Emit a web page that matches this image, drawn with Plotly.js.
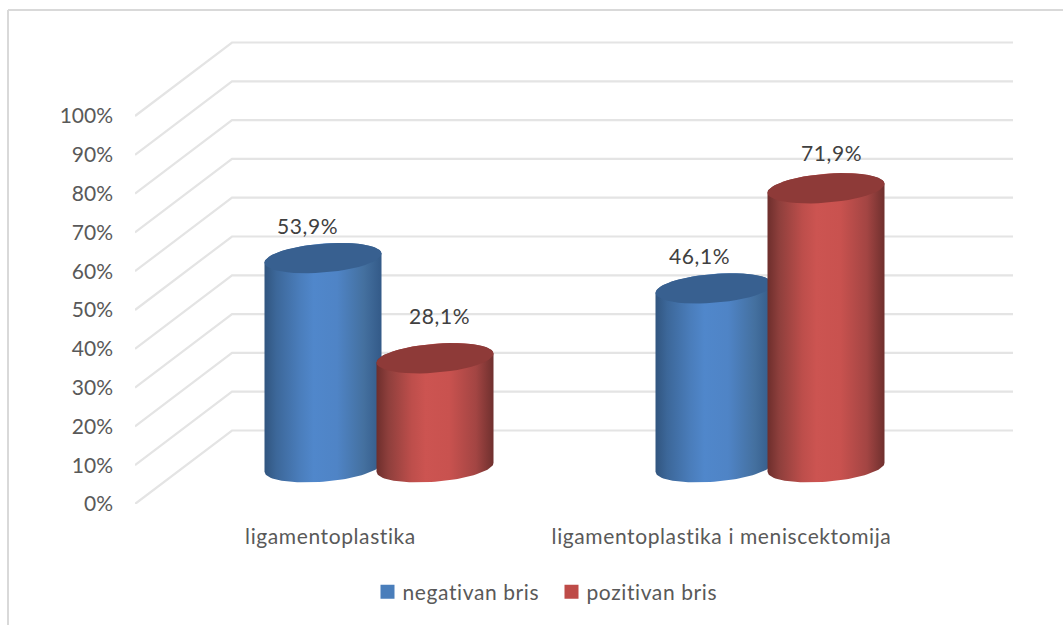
<!DOCTYPE html>
<html>
<head>
<meta charset="utf-8">
<script src="https://cdn.plot.ly/plotly-3.0.1.min.js"></script>
<style>
html,body{margin:0;padding:0;background:#fff}
#chart{width:1063px;height:625px}
.xtick text,.legendtext,.annotation-text{letter-spacing:.6px}
</style>
</head>
<body>
<div id="chart"></div>
<script>
const categories = ["ligamentoplastika", "ligamentoplastika i meniscektomija"];
const seriesNames = ["negativan bris", "pozitivan bris"];
const negativan = [53.9, 46.1];
const pozitivan = [28.1, 71.9];
const yTicks = [0, 10, 20, 30, 40, 50, 60, 70, 80, 90, 100];
const yTickLabels = ["0%", "10%", "20%", "30%", "40%", "50%", "60%", "70%", "80%", "90%", "100%"];

// Plot geometry
const W = 1063, H = 625, L = 135, R = 1013, T = 30, B = 504;
const pxPerX = 391, pxPerY = 3.88;
const xMin = -0.5, xMax = xMin + (R - L) / pxPerX;
const yMax = (B - T) / pxPerY;
const depthX = 97 / pxPerX, depthY = 73.5 / pxPerY;
const grid = "#e4e4e4";
const fontFamily = "Lato", fontSize = 21;

const traces = [];
// walls / gridlines
yTicks.forEach(v => traces.push({
  x: [xMin, xMin + depthX, xMax],
  y: [v, v + depthY, v + depthY],
  mode: "lines", line: {color: grid, width: 2.2}, cliponaxis: false,
  showlegend: false, hoverinfo: "skip"
}));

const blueStops = [[0, "#31557f"], [0.1, "#3c6799"], [0.3, "#4a7dbb"], [0.42, "#5087cb"], [0.62, "#4f84c6"], [0.85, "#44709f"], [1, "#335a88"]];
const redStops = [[0, "#6d2e2c"], [0.1, "#8e3f3c"], [0.3, "#bd4e4b"], [0.42, "#cc5451"], [0.62, "#c9524f"], [0.85, "#a34543"], [1, "#6f302e"]];

function ellipse(cx, cy, from, to) {
  const A = 58.5 / pxPerX, S = 4.5 / pxPerY, Bd = 14.5 / pxPerY;
  const xs = [], ys = [];
  for (let i = 0; i <= 48; i++) {
    const t = from + (to - from) * i / 48;
    xs.push(cx + A * Math.cos(t));
    ys.push(cy + S * Math.cos(t) + Bd * Math.sin(t));
  }
  return [xs, ys];
}
function cylinder(cx, value, stops, topColor) {
  const base = depthY / 2;
  const cy = base + value;
  const up = ellipse(cx, cy, 0, Math.PI);
  const low = ellipse(cx, base, Math.PI, 2 * Math.PI);
  traces.push({
    x: up[0].concat(low[0]), y: up[1].concat(low[1]),
    mode: "lines", line: {width: 0}, fill: "toself",
    fillgradient: {type: "horizontal", colorscale: stops},
    showlegend: false, hoverinfo: "skip"
  });
  const top = ellipse(cx, cy, 0, 2 * Math.PI);
  traces.push({
    x: top[0], y: top[1], mode: "lines", line: {width: 0},
    fill: "toself", fillcolor: topColor, showlegend: false, hoverinfo: "skip"
  });
}
const sideOffset = 56 / pxPerX;
const annotations = [];
const labelShift = [[[-16, 33], [-15, 33]], [[4, 43], [5, 36]]];
categories.forEach((c, i) => {
  const center = i + depthX / 2;
  cylinder(center - sideOffset, negativan[i], blueStops, "#386090");
  cylinder(center + sideOffset, pozitivan[i], redStops, "#8e3a38");
  [negativan[i], pozitivan[i]].forEach((v, s) => {
    annotations.push({
      x: center + (s ? sideOffset : -sideOffset),
      y: depthY / 2 + v,
      text: v.toFixed(1).replace(".", ",") + "%",
      showarrow: false,
      xshift: labelShift[s][i][0], yshift: labelShift[s][i][1],
      font: {family: fontFamily, size: fontSize, color: "#404040"}
    });
  });
});

// legend entries
traces.push({x: [null], y: [null], name: seriesNames[0], mode: "markers", marker: {symbol: "square", size: 14, color: "#4a7ebb"}});
traces.push({x: [null], y: [null], name: seriesNames[1], mode: "markers", marker: {symbol: "square", size: 14, color: "#be4b48"}});

const pxX = p => (p - L) / (R - L);
const pxY = p => (B - p) / (B - T);

const layout = {
  width: W, height: H,
  margin: {l: L, r: W - R, t: T, b: H - B, pad: 0},
  paper_bgcolor: "#ffffff", plot_bgcolor: "rgba(0,0,0,0)",
  font: {family: fontFamily, size: fontSize, color: "#595959"},
  hovermode: false,
  xaxis: {
    range: [xMin, xMax], tickvals: [0, 1], ticktext: categories,
    showgrid: false, zeroline: false, showline: false, ticks: "",
    ticklabelstandoff: 18, tickfont: {family: fontFamily, size: fontSize, color: "#595959"}
  },
  yaxis: {
    range: [0, yMax], tickvals: yTicks, ticktext: yTickLabels,
    showgrid: false, zeroline: false, showline: false, ticks: "",
    ticklabelstandoff: 21, tickfont: {family: fontFamily, size: fontSize, color: "#595959"}
  },
  showlegend: true,
  legend: {
    orientation: "h", x: pxX(551.5), xanchor: "center", y: pxY(592), yanchor: "middle",
    entrywidth: 139, entrywidthmode: "pixels",
    font: {family: fontFamily, size: fontSize, color: "#595959"},
    bgcolor: "rgba(0,0,0,0)", itemclick: false, itemdoubleclick: false
  },
  annotations: annotations,
  shapes: [
    {type: "line", xref: "paper", yref: "paper", x0: pxX(8), x1: pxX(8), y0: pxY(10), y1: pxY(625), line: {color: "#d9d9d9", width: 2}, layer: "below"},
    {type: "line", xref: "paper", yref: "paper", x0: pxX(8), x1: pxX(1063), y0: pxY(10), y1: pxY(10), line: {color: "#d9d9d9", width: 2}, layer: "below"}
  ]
};
Plotly.newPlot("chart", traces, layout, {displayModeBar: false, staticPlot: true}).then(() => {
  document.querySelectorAll(".legendtext").forEach(t => t.setAttribute("x", parseFloat(t.getAttribute("x")) - 5));
});
</script>
</body>
</html>
